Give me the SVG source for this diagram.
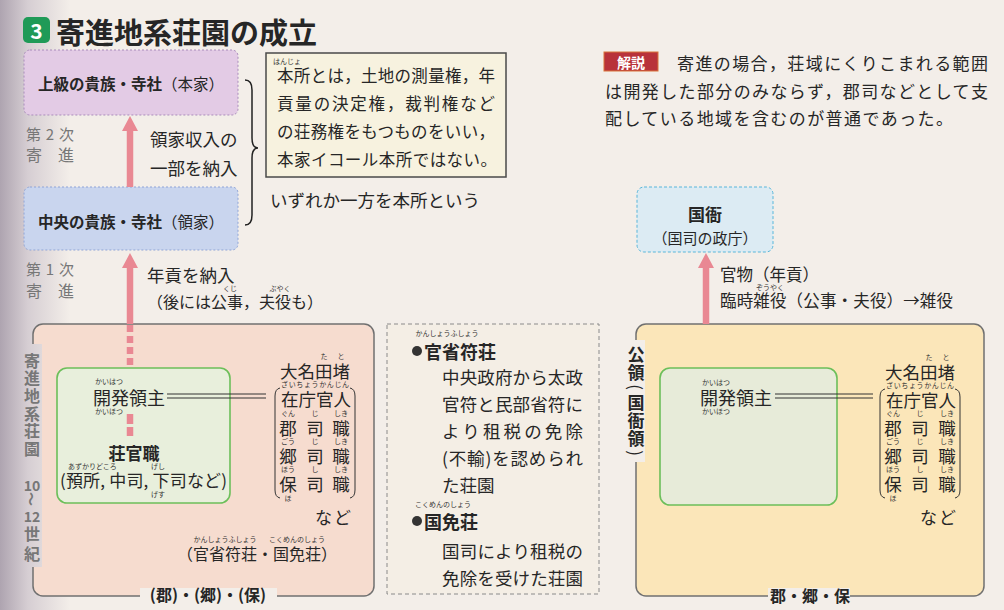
<svg xmlns="http://www.w3.org/2000/svg" width="1004" height="610" viewBox="0 0 1004 610">
<style>
text{font-family:"Noto Sans CJK JP","Noto Sans CJK SC",sans-serif;fill:#262626;dominant-baseline:central}
.b{font-weight:bold}
.r{font-size:7px;fill:#333}
.m{text-anchor:middle}
.g{fill:#777}
.big{stroke:#707070;stroke-width:1.5}
.grn{stroke:#6cbf5a;stroke-width:1.6}
.ln{stroke:#333;stroke-width:1;fill:none}
.arr{stroke:#e98893;stroke-width:6.5}
</style>
<defs>
<linearGradient id="gut" gradientUnits="userSpaceOnUse" x1="0" y1="0" x2="70" y2="0">
<stop offset="0" stop-color="#aea4b0"/>
<stop offset="0.4" stop-color="#d6ced3"/>
<stop offset="1" stop-color="#f3eee9"/>
</linearGradient>
<marker id="ah" viewBox="0 0 15 16" refX="0" refY="8" markerWidth="15" markerHeight="16" markerUnits="userSpaceOnUse" orient="auto">
<path d="M0,0 L15,8 L0,16 z" fill="#e98893"/>
</marker>
</defs>
<rect width="1004" height="610" fill="#f3eee9"/>
<rect width="70" height="610" fill="url(#gut)"/>

<g id="title">
<rect x="23" y="17" width="27" height="26" rx="5" fill="#1f9a57"/>
<text x="36.5" y="30" class="b m" font-size="21" style="fill:#fff">3</text>
<text x="56" y="31" class="b" font-size="29">寄進地系荘園の成立</text>
</g>

<g id="honke">
<rect x="24" y="50" width="214" height="65" rx="6" fill="#e3cbe5" stroke="#a98bbb" stroke-dasharray="2 2"/>
<text x="131" y="83" class="m" font-size="15.5"><tspan class="b">上級の貴族・寺社</tspan>（本家）</text>
</g>

<g id="ryoke">
<rect x="24" y="187" width="214" height="63" rx="6" fill="#c9d5ee" stroke="#8fa4d6" stroke-dasharray="2 2"/>
<text x="131" y="221" class="m" font-size="15.5"><tspan class="b">中央の貴族・寺社</tspan>（領家）</text>
</g>

<g id="labels-left">
<text x="26" y="133" class="g" font-size="15" textLength="48">第2次</text>
<text x="26" y="154" class="g" font-size="16">寄　進</text>
<text x="26" y="268" class="g" font-size="15" textLength="48">第1次</text>
<text x="26" y="290" class="g" font-size="16">寄　進</text>
<text x="150" y="138" font-size="17.5">領家収入の</text>
<text x="150" y="167" font-size="17.5">一部を納入</text>
<text x="147" y="274" font-size="17.5">年貢を納入</text>
<text x="230" y="288" class="r m">くじ</text>
<text x="280" y="288" class="r m">ぶやく</text>
<text x="147" y="301" font-size="16" textLength="176">（後には公事，夫役も）</text>
</g>

<g id="brace">
<path class="ln" style="stroke:#222;stroke-width:1.5" d="M245,80 Q252,80 252,90 L252,138 Q252,148 258,148 Q252,148 252,158 L252,215 Q252,225 245,225"/>
</g>

<g id="note">
<rect x="266" y="53" width="240" height="124" fill="#f7f2df" stroke="#4a4a4a" stroke-width="1.5"/>
<text x="287" y="61" class="r m">はんじょ</text>
<text x="277" y="75" font-size="16.5" textLength="218">本所とは，土地の測量権，年</text>
<text x="277" y="103" font-size="16.5" textLength="218">貢量の決定権，裁判権など</text>
<text x="277" y="131" font-size="16.5" textLength="218">の荘務権をもつものをいい，</text>
<text x="277" y="159" font-size="16.5" textLength="220">本家イコール本所ではない。</text>
<text x="270" y="199" font-size="17.5">いずれか一方を本所という</text>
</g>

<g id="kaisetsu">
<rect x="604" y="52" width="54" height="19" fill="#b8323a" stroke="#d9733a" stroke-width="1"/>
<text x="631" y="61.5" class="b m" font-size="14" style="fill:#fff">解説</text>
<text x="677" y="62" font-size="17" textLength="311">寄進の場合，荘域にくりこまれる範囲</text>
<text x="605" y="90" font-size="17" textLength="383">は開発した部分のみならず，郡司などとして支</text>
<text x="605" y="117" font-size="17" textLength="348">配している地域を含むのが普通であった。</text>
</g>

<g id="kokuga">
<rect x="637" y="187" width="136" height="65" rx="7" fill="#dcebf3" stroke="#58b6da" stroke-dasharray="3 2"/>
<text x="705" y="213" class="b m" font-size="17">国衙</text>
<text x="705" y="237" class="m" font-size="15">（国司の政庁）</text>
</g>

<g id="labels-right">
<text x="720" y="274" font-size="16.5">官物（年貢）</text>
<text x="770" y="287" class="r m">ぞうやく</text>
<text x="720" y="300" font-size="16.5" textLength="233">臨時雑役（公事・夫役）→雑役</text>
</g>

<g id="shoen">
<rect x="33" y="324" width="341" height="272" rx="10" fill="#f6dccf" class="big"/>
<rect x="23" y="344" width="19" height="223" fill="url(#gut)"/>
<text x="32" y="360" class="b m g" font-size="16">寄</text>
<text x="32" y="377" class="b m g" font-size="16">進</text>
<text x="32" y="395" class="b m g" font-size="16">地</text>
<text x="32" y="413" class="b m g" font-size="16">系</text>
<text x="32" y="430" class="b m g" font-size="16">荘</text>
<text x="32" y="448" class="b m g" font-size="16">園</text>
<text x="32" y="485" class="b m g" font-size="14">10</text>
<text x="32" y="499" class="b m g" font-size="14" transform="rotate(90 32 499)">〜</text>
<text x="32" y="516" class="b m g" font-size="14">12</text>
<text x="32" y="533" class="b m g" font-size="16">世</text>
<text x="32" y="553" class="b m g" font-size="16">紀</text>
<rect x="140" y="588" width="137" height="15" fill="#f3eee9"/>
<text x="208" y="594" class="b m" font-size="16">(郡)・(郷)・(保)</text>
</g>

<g id="shoen-ryoshu">
<rect x="57" y="368" width="173" height="135" rx="10" fill="#e8efdc" class="grn"/>
<text x="95" y="381" class="r">かいはつ</text>
<text x="93" y="397" font-size="18">開発領主</text>
<text x="95" y="411" class="r">かいほつ</text>
<text x="134" y="452" class="b m" font-size="17">荘官職</text>
<text x="68" y="466" class="r">あずかりどころ</text>
<text x="158" y="466" class="r m">げし</text>
<text x="60" y="479" font-size="17" textLength="167">(預所, 中司, 下司など)</text>
<text x="158" y="494" class="r m">げす</text>
</g>

<g id="shoen-list">
<text x="324" y="356" class="r m">た</text>
<text x="341" y="356" class="r m">と</text>
<text x="280" y="370" font-size="17.5">大名田堵</text>
<text x="281" y="384" class="r" textLength="68">ざいちょうかんじん</text>
<text x="281" y="398" font-size="17.5">在庁官人</text>
<text x="288" y="413" class="r m">ぐん</text><text x="315" y="413" class="r m">じ</text><text x="341" y="413" class="r m">しき</text>
<text x="288" y="427" class="m" font-size="17.5">郡</text><text x="315" y="427" class="m" font-size="17.5">司</text><text x="341" y="427" class="m" font-size="17.5">職</text>
<text x="288" y="441" class="r m">ごう</text><text x="315" y="441" class="r m">じ</text><text x="341" y="441" class="r m">しき</text>
<text x="288" y="455" class="m" font-size="17.5">郷</text><text x="315" y="455" class="m" font-size="17.5">司</text><text x="341" y="455" class="m" font-size="17.5">職</text>
<text x="288" y="469" class="r m">ほう</text><text x="315" y="469" class="r m">し</text><text x="341" y="469" class="r m">しき</text>
<text x="288" y="483" class="m" font-size="17.5">保</text><text x="315" y="483" class="m" font-size="17.5">司</text><text x="341" y="483" class="m" font-size="17.5">職</text>
<text x="288" y="498" class="r m">ほ</text>
<path class="ln" d="M280,388 Q275,389 275,396 L275,490 Q275,497 280,498"/>
<path class="ln" d="M350,388 Q355,389 355,396 L355,490 Q355,497 350,498"/>
<text x="315" y="516" font-size="17" letter-spacing="2">など</text>
<text x="225" y="539" class="r m">かんしょうふしょう</text>
<text x="297" y="539" class="r m">こくめんのしょう</text>
<text x="177" y="553" font-size="16">（官省符荘・国免荘）</text>
</g>

<g id="kanshofu">
<rect x="387" y="324" width="212" height="270" fill="#f4eee5" stroke="#8a8a8a" stroke-dasharray="4 3"/>
<circle cx="417" cy="351" r="5" fill="#333"/>
<text x="447" y="333" class="r m">かんしょうふしょう</text>
<text x="424" y="351" class="b" font-size="18">官省符荘</text>
<text x="442" y="376" font-size="17.5" textLength="141">中央政府から太政</text>
<text x="442" y="403" font-size="17.5" textLength="141">官符と民部省符に</text>
<text x="442" y="430" font-size="17.5" textLength="141">より租税の免除</text>
<text x="442" y="457" font-size="17.5" textLength="141">(不輸)を認められ</text>
<text x="442" y="484" font-size="17.5">た荘園</text>
<circle cx="417" cy="521" r="5" fill="#333"/>
<text x="443" y="504" class="r m">こくめんのしょう</text>
<text x="424" y="521" class="b" font-size="18">国免荘</text>
<text x="442" y="550" font-size="17.5" textLength="141">国司により租税の</text>
<text x="442" y="577" font-size="17.5" textLength="141">免除を受けた荘園</text>
</g>

<g id="koryo">
<rect x="636" y="324" width="348" height="272" rx="10" fill="#fbe6b9" class="big"/>
<rect x="627" y="340" width="18" height="122" fill="#f3eee9"/>
<text x="636" y="353" class="b m" font-size="17">公</text>
<text x="636" y="371" class="b m" font-size="17">領</text>
<text x="636" y="387" class="m" font-size="17" transform="rotate(90 636 387)">(</text>
<text x="636" y="401" class="b m" font-size="17">国</text>
<text x="636" y="419" class="b m" font-size="17">衙</text>
<text x="636" y="437" class="b m" font-size="17">領</text>
<text x="636" y="453" class="m" font-size="17" transform="rotate(90 636 453)">)</text>
<rect x="768" y="588" width="82" height="15" fill="#f3eee9"/>
<text x="810" y="595" class="b m" font-size="16">郡・郷・保</text>
</g>

<g id="koryo-ryoshu">
<rect x="660" y="368" width="177" height="137" rx="10" fill="#e7ebd9" class="grn"/>
<text x="702" y="382" class="r">かいはつ</text>
<text x="700" y="397" font-size="18">開発領主</text>
<text x="702" y="411" class="r">かいほつ</text>
</g>

<g id="koryo-list">
<text x="929" y="357" class="r m">た</text>
<text x="946" y="357" class="r m">と</text>
<text x="885" y="371" font-size="17.5">大名田堵</text>
<text x="886" y="385" class="r" textLength="68">ざいちょうかんじん</text>
<text x="886" y="399" font-size="17.5">在庁官人</text>
<text x="893" y="413" class="r m">ぐん</text><text x="920" y="413" class="r m">じ</text><text x="947" y="413" class="r m">しき</text>
<text x="893" y="427" class="m" font-size="17.5">郡</text><text x="920" y="427" class="m" font-size="17.5">司</text><text x="947" y="427" class="m" font-size="17.5">職</text>
<text x="893" y="441" class="r m">ごう</text><text x="920" y="441" class="r m">じ</text><text x="947" y="441" class="r m">しき</text>
<text x="893" y="455" class="m" font-size="17.5">郷</text><text x="920" y="455" class="m" font-size="17.5">司</text><text x="947" y="455" class="m" font-size="17.5">職</text>
<text x="893" y="469" class="r m">ほう</text><text x="920" y="469" class="r m">し</text><text x="947" y="469" class="r m">しき</text>
<text x="893" y="483" class="m" font-size="17.5">保</text><text x="920" y="483" class="m" font-size="17.5">司</text><text x="947" y="483" class="m" font-size="17.5">職</text>
<text x="893" y="498" class="r m">ほ</text>
<path class="ln" d="M885,389 Q880,390 880,397 L880,490 Q880,497 885,498"/>
<path class="ln" d="M955,389 Q960,390 960,397 L960,490 Q960,497 955,498"/>
<text x="920" y="516" font-size="17" letter-spacing="2">など</text>
</g>

<g id="connectors">
<line class="arr" x1="130" y1="187" x2="130" y2="131" marker-end="url(#ah)"/>
<line class="arr" x1="130" y1="324" x2="130" y2="268" marker-end="url(#ah)"/>
<line class="arr" x1="706" y1="324" x2="706" y2="268" marker-end="url(#ah)"/>
<line class="arr" x1="130" y1="325" x2="130" y2="368" stroke-dasharray="7 4"/>
<line class="arr" x1="130" y1="414" x2="130" y2="436" stroke-dasharray="10 3"/>
<line class="ln" x1="167" y1="394" x2="266" y2="394"/>
<line class="ln" x1="167" y1="398" x2="266" y2="398"/>
<line class="ln" x1="775" y1="394" x2="873" y2="394"/>
<line class="ln" x1="775" y1="398" x2="873" y2="398"/>
</g>
</svg>
